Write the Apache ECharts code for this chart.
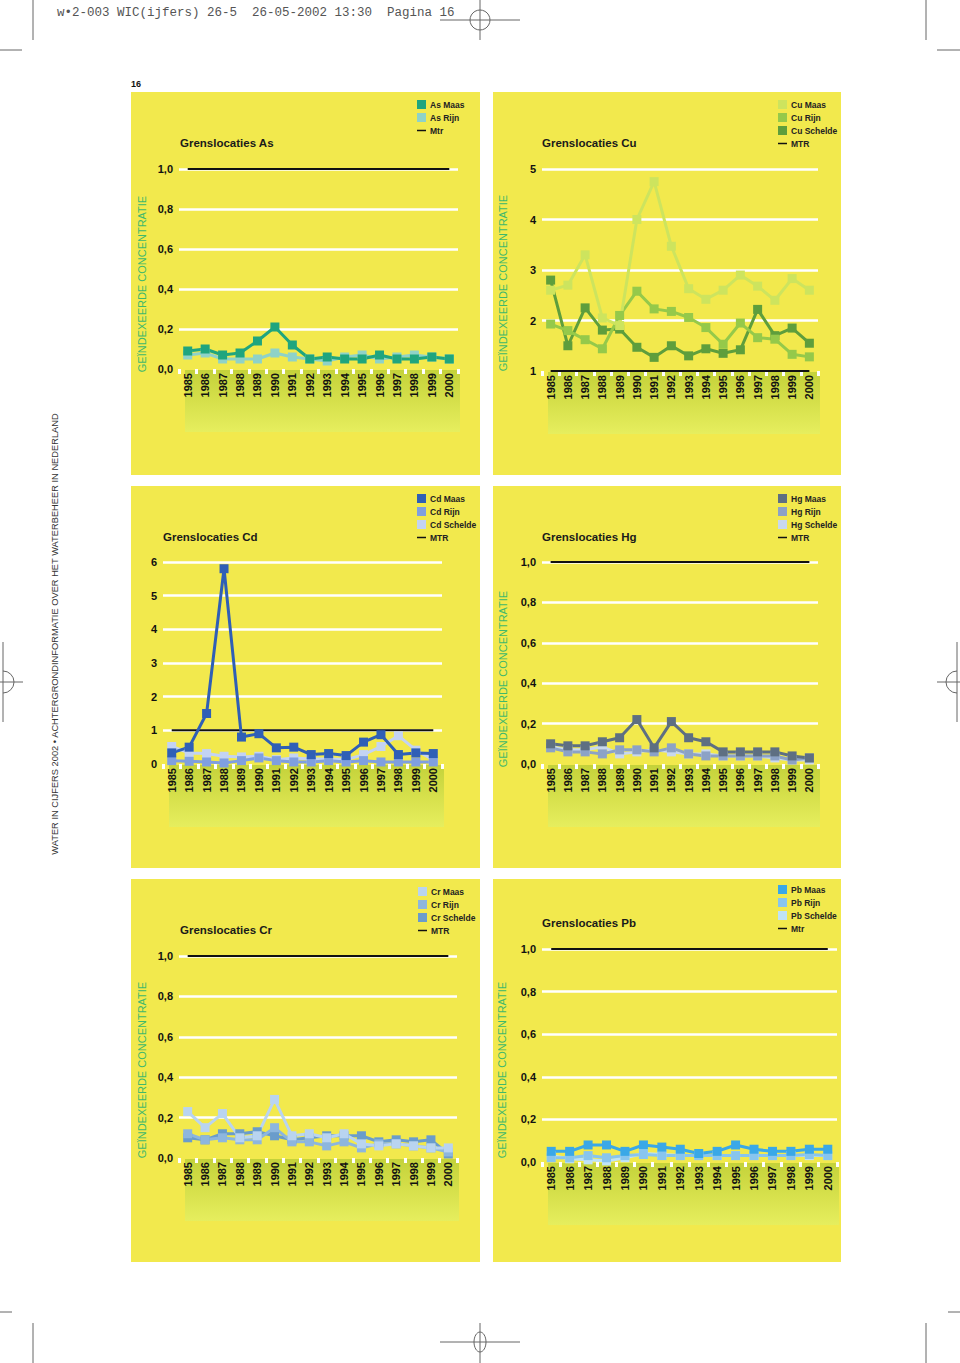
<!DOCTYPE html>
<html><head><meta charset="utf-8">
<script src="https://cdn.jsdelivr.net/npm/echarts@6/dist/echarts.min.js"></script>
<style>html,body{margin:0;padding:0;background:#fff}#c{width:960px;height:1363px}</style>
</head><body><div id="c"></div>
<script>
// ---------- DATA ----------
const years = ['1985','1986','1987','1988','1989','1990','1991','1992','1993','1994','1995','1996','1997','1998','1999','2000'];
const mtrLevel = [1,1,1,1,1,1,1,1,1,1,1,1,1,1,1,1];

const asMaas = [0.09,0.10,0.07,0.08,0.14,0.21,0.12,0.05,0.06,0.05,0.05,0.07,0.05,0.05,0.06,0.05];
const asRijn = [0.07,0.08,0.05,0.05,0.05,0.08,0.06,0.05,0.04,0.06,0.07,0.05,0.06,0.07,0.06,0.05];

const cuMaas = [2.6,2.7,3.3,2.05,1.9,4.0,4.75,3.47,2.63,2.42,2.6,2.9,2.68,2.4,2.83,2.6];
const cuRijn = [1.93,1.8,1.62,1.44,2.1,2.58,2.23,2.18,2.06,1.86,1.53,1.95,1.66,1.63,1.33,1.28];
const cuSchelde = [2.8,1.5,2.25,1.81,1.83,1.47,1.27,1.5,1.3,1.44,1.35,1.42,2.22,1.7,1.85,1.55];

const cdMaas = [0.33,0.5,1.5,5.8,0.8,0.9,0.48,0.5,0.28,0.31,0.25,0.65,0.87,0.28,0.33,0.31];
const cdRijn = [0.1,0.08,0.06,0.03,0.1,0.18,0.1,0.06,0.06,0.1,0.06,0.1,0.06,0.06,0.06,0.06];
const cdSchelde = [0.52,0.33,0.31,0.23,0.21,0.23,0.13,0.18,0.15,0.15,0.13,0.28,0.52,0.84,0.41,0.13];

const hgMaas = [0.10,0.09,0.09,0.11,0.13,0.22,0.08,0.21,0.13,0.11,0.06,0.06,0.06,0.06,0.04,0.03];
const hgRijn = [0.08,0.06,0.06,0.05,0.07,0.07,0.06,0.08,0.05,0.04,0.04,0.04,0.04,0.04,0.02,0.03];
const hgSchelde = [0.085,0.07,0.07,0.085,0.05,0.06,0.07,0.06,0.05,0.05,0.04,0.04,0.04,0.03,0.02,0.02];

const crMaas = [0.23,0.15,0.22,0.10,0.11,0.29,0.11,0.12,0.10,0.12,0.07,0.06,0.07,0.06,0.05,0.05];
const crRijn = [0.12,0.09,0.10,0.09,0.09,0.15,0.08,0.08,0.06,0.08,0.05,0.07,0.07,0.06,0.05,0.03];
const crSchelde = [0.10,0.09,0.12,0.12,0.13,0.11,0.09,0.10,0.11,0.11,0.11,0.08,0.09,0.08,0.09,0.02];

const pbMaas = [0.05,0.05,0.08,0.08,0.05,0.08,0.07,0.06,0.04,0.05,0.08,0.06,0.05,0.05,0.06,0.06];
const pbRijn = [0.02,0.02,0.03,0.02,0.03,0.035,0.03,0.03,0.03,0.03,0.03,0.03,0.03,0.03,0.035,0.03];
const pbSchelde = [0.03,0.015,0.01,0.005,0.02,0.04,0.035,0.03,0.03,0.03,0.03,0.03,0.03,0.03,0.03,0.03];

const yTitle = 'GEÏNDEXEERDE CONCENTRATIE';
const headerText = 'w\u20222-003 WIC(ijfers) 26-5  26-05-2002 13:30  Pagina 16';
const sideText = 'WATER IN CIJFERS 2002 \u2022 ACHTERGRONDINFORMATIE OVER HET WATERBEHEER IN NEDERLAND';

// ---------- LAYOUT ----------
const FF = '"Liberation Sans", Arial, Helvetica, sans-serif';
const panels = [
  {box:[131,92,349,383], grid:[179,169,279,200], min:0, max:1, interval:0.2, dec:true,
   title:'Grenslocaties As', tpos:[180,143], legend:[417,100], yname:[142,284], mtr:'Mtr',
   series:[['As Maas',asMaas,'#1fa57e'],['As Rijn',asRijn,'#8fd2c8']]},
  {box:[493,92,348,383], grid:[542,169,276,202], min:1, max:5, interval:1, dec:false,
   title:'Grenslocaties Cu', tpos:[542,143], legend:[778,100], yname:[503,283], mtr:'MTR',
   series:[['Cu Maas',cuMaas,'#cde45e'],['Cu Rijn',cuRijn,'#95c94a'],['Cu Schelde',cuSchelde,'#5e9e3c']]},
  {box:[131,486,349,382], grid:[163,562,279,202], min:0, max:6, interval:1, dec:false,
   title:'Grenslocaties Cd', tpos:[163,537], legend:[417,494], yname:null, mtr:'MTR',
   series:[['Cd Maas',cdMaas,'#2f5fb6'],['Cd Rijn',cdRijn,'#7f9fe0'],['Cd Schelde',cdSchelde,'#c3d3f3']]},
  {box:[493,486,348,382], grid:[542,562,276,202], min:0, max:1, interval:0.2, dec:true,
   title:'Grenslocaties Hg', tpos:[542,537], legend:[778,494], yname:[503,679], mtr:'MTR',
   series:[['Hg Maas',hgMaas,'#5e6f82'],['Hg Rijn',hgRijn,'#8ca2c6'],['Hg Schelde',hgSchelde,'#c8d8ee']]},
  {box:[131,879,349,383], grid:[179,956,278,202], min:0, max:1, interval:0.2, dec:true,
   title:'Grenslocaties Cr', tpos:[180,930], legend:[418,887], yname:[142,1070], mtr:'MTR',
   series:[['Cr Maas',crMaas,'#b9d4f0'],['Cr Rijn',crRijn,'#8db6de'],['Cr Schelde',crSchelde,'#6a9ccb']]},
  {box:[493,879,348,383], grid:[542,949,295,213], min:0, max:1, interval:0.2, dec:true,
   title:'Grenslocaties Pb', tpos:[542,923], legend:[778,885], yname:[502,1070], mtr:'Mtr',
   series:[['Pb Maas',pbMaas,'#3aa8e7'],['Pb Rijn',pbRijn,'#88c5ee'],['Pb Schelde',pbSchelde,'#c0e3f7']]}
];

const grids=[], xAxes=[], yAxes=[], series=[], legends=[], graphics=[];

panels.forEach((p,i)=>{
  const [gl,gt,gw,gh] = p.grid;
  graphics.push({type:'rect', z:-10, shape:{x:p.box[0],y:p.box[1],width:p.box[2],height:p.box[3]}, style:{fill:'#f2e94d'}, silent:true});
  graphics.push({type:'rect', z:-9, shape:{x:gl+6,y:gt+gh+1,width:gw-4,height:62},
    style:{fill:{type:'linear',x:0,y:0,x2:0,y2:1,colorStops:[{offset:0,color:'#c4d23a'},{offset:0.5,color:'#d6e04b'},{offset:1,color:'#e6ee5e'}]}}, silent:true});
  graphics.push({type:'text', x:p.tpos[0], y:p.tpos[1], style:{text:p.title, fill:'#1a1a1a', font:'bold 11.5px '+FF, align:'left', verticalAlign:'middle', textAlign:'left', textVerticalAlign:'middle'}});
  if (p.yname) {
    graphics.push({type:'text', x:p.yname[0], y:p.yname[1], rotation:Math.PI/2,
      style:{text:yTitle, fill:'#3fb86c', font:'11px '+FF, align:'center', verticalAlign:'middle', textAlign:'center', textVerticalAlign:'middle'}});
  }
  grids.push({left:gl, top:gt, width:gw, height:gh, containLabel:false});
  xAxes.push({type:'category', gridIndex:i, data:years, boundaryGap:true,
    axisLine:{show:false},
    axisTick:{show:true, length:5, lineStyle:{color:'#ffffff', width:3}},
    axisLabel:{rotate:90, interval:0, fontSize:11, fontWeight:'bold', color:'#111', margin:4, fontFamily:FF},
    splitLine:{show:false}});
  yAxes.push({type:'value', gridIndex:i, min:p.min, max:p.max, interval:p.interval,
    axisLine:{show:false}, axisTick:{show:false},
    splitLine:{show:true, showMinLine:false, lineStyle:{color:'#ffffff', width:2.5}},
    axisLabel:{fontSize:11, fontWeight:'bold', color:'#111', margin:6, fontFamily:FF,
      formatter: v => p.dec ? v.toFixed(1).replace('.',',') : String(Math.round(v))}});
  series.push({name:p.mtr, type:'line', xAxisIndex:i, yAxisIndex:i, data:mtrLevel, symbol:'none', showSymbol:false,
    lineStyle:{color:'#111', width:2}, itemStyle:{color:'#111'}, z:4, animation:false});
  p.series.slice().reverse().forEach(s=>{
    series.push({name:s[0], type:'line', xAxisIndex:i, yAxisIndex:i, data:s[1], symbol:'rect', symbolSize:9,
      lineStyle:{width:3, color:s[2]}, itemStyle:{color:s[2]}, z:5, animation:false});
  });
  legends.push({left:p.legend[0], top:p.legend[1], orient:'vertical', padding:0, itemWidth:9, itemHeight:9, itemGap:4,
    selectedMode:false,
    textStyle:{fontSize:8.5, fontWeight:'bold', color:'#222', fontFamily:FF, padding:[0,0,0,-1]},
    data: p.series.map(s=>({name:s[0], icon:'rect'})).concat([{name:p.mtr, icon:'path://M0,0L12,0L12,2L0,2Z'}])});
});

// page decorations
graphics.push({type:'text', x:57, y:13, style:{text:headerText, fill:'#555', font:'12.5px "Liberation Mono", "DejaVu Sans Mono", monospace', align:'left', verticalAlign:'middle', textAlign:'left', textVerticalAlign:'middle'}});
graphics.push({type:'text', x:131, y:84, style:{text:'16', fill:'#111', font:'bold 9px '+FF, align:'left', verticalAlign:'middle', textAlign:'left', textVerticalAlign:'middle'}});
graphics.push({type:'text', x:55, y:634, rotation:Math.PI/2, style:{text:sideText, fill:'#333', font:'9.3px '+FF, align:'center', verticalAlign:'middle', textAlign:'center', textVerticalAlign:'middle'}});

const markStyle = {stroke:'#666', lineWidth:1, fill:null};
const L = (x1,y1,x2,y2)=>graphics.push({type:'line', shape:{x1,y1,x2,y2}, style:markStyle, silent:true});
L(33,0,33,40); L(0,50,22,50);
L(926,0,926,40); L(937,50,960,50);
L(440,20,520,20); L(480,0,480,40);
graphics.push({type:'circle', shape:{cx:480,cy:20,r:10}, style:markStyle, silent:true});
L(3,642,3,722); L(0,682,23,682);
graphics.push({type:'arc', shape:{cx:3,cy:682,r:11,startAngle:-Math.PI/2,endAngle:Math.PI/2}, style:markStyle, silent:true});
L(957,642,957,722); L(937,682,960,682);
graphics.push({type:'arc', shape:{cx:957,cy:682,r:11,startAngle:Math.PI/2,endAngle:Math.PI*1.5}, style:markStyle, silent:true});
L(0,1312,12,1312); L(33,1323,33,1363);
L(948,1312,960,1312); L(926,1323,926,1363);
L(440,1342,520,1342); L(480,1323,480,1363);
graphics.push({type:'ellipse', shape:{cx:480,cy:1342,rx:6,ry:10}, style:markStyle, silent:true});

const chart = echarts.init(document.getElementById('c'), null, {renderer:'svg'});
chart.setOption({
  backgroundColor:'#ffffff',
  animation:false,
  textStyle:{fontFamily:FF},
  grid:grids, xAxis:xAxes, yAxis:yAxes, series:series, legend:legends,
  graphic:{elements:graphics}
});
</script></body></html>
